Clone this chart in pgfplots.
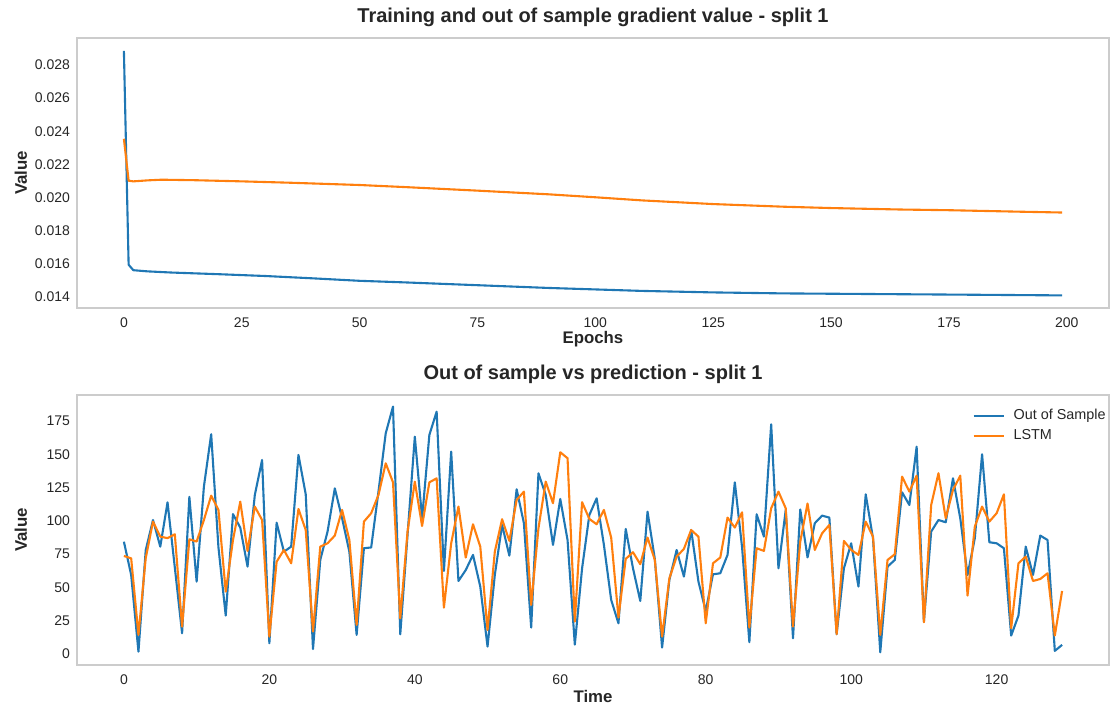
\documentclass[border=0pt]{standalone}
\usepackage{fontspec}
\setmainfont{Liberation Sans}
\usepackage{pgfplots}
\usepackage{pgfplotstable}
\pgfplotsset{compat=1.18}

\definecolor{tabblue}{HTML}{1F77B4}
\definecolor{taborange}{HTML}{FF7F0E}
\definecolor{spine}{HTML}{CCCCCC}
\definecolor{txt}{HTML}{262626}

% gradient value per epoch: training (blue) and out of sample (orange)
\pgfplotstableread{
epoch train
0   0.02885
1   0.01595
2   0.01562
5   0.01555
10  0.01548
20  0.01538
30  0.01527
40  0.01513
50  0.01498
60  0.01488
70  0.01477
80  0.01466
90  0.01455
100 0.01446
110 0.01437
125 0.01428
140 0.01422
150 0.01420
175 0.01415
199 0.01410
}\gradtrain
\pgfplotstableread{
epoch test
0   0.02355
1   0.02102
2   0.02098
5   0.02104
8   0.02108
15  0.02105
25  0.02098
35  0.02090
50  0.02076
60  0.02063
75  0.02042
90  0.02020
100 0.02002
110 0.01983
125 0.01961
140 0.01945
150 0.01937
165 0.01928
175 0.01924
190 0.01915
199 0.01910
}\gradtest

% out-of-sample series and LSTM prediction
\pgfplotstableread{
t oos lstm
0 84.3 73.6
1 59.3 71.8
2 1.7 14.3
3 78 72
4 100.6 99.4
5 80.6 88.1
6 113.9 87
7 65 89.9
8 15.5 20.5
9 118 86.1
10 54.3 84.4
11 125.7 100.6
12 165 118.9
13 80 108.2
14 28.8 46.8
15 105 85.6
16 94.9 114.4
17 65.6 77.4
18 119.4 110.7
19 145.7 100.6
20 8 13
21 98.6 69.3
22 76.8 78.1
23 80.6 68.1
24 149.5 108.9
25 119.9 93.1
26 3.7 16.8
27 70.6 80.6
28 91.9 83.1
29 124.4 88.9
30 101.9 108.2
31 76.8 85.6
32 14.3 21.8
33 79.4 99.4
34 80 105.7
35 121.9 119.4
36 165.7 143.2
37 185.8 128.9
38 14.8 26.8
39 89.4 91.9
40 163.2 129.4
41 101.9 96.1
42 164.5 128.9
43 182 131.9
44 62.3 34.8
45 152 83.1
46 54.8 110.7
47 63 72.4
48 74.4 97.4
49 50.6 80.6
50 5.5 18
51 59.3 76.8
52 96.9 101.2
53 73.8 84.9
54 123.7 115.7
55 98.2 121.9
56 19.8 36.8
57 135.7 94.4
58 119.4 129.4
59 81.9 113.2
60 116.4 151.5
61 85.6 147
62 7 24.3
63 64.3 114
64 104.4 101.4
65 116.9 97.4
66 81.9 108.2
67 40.6 87.4
68 23 27.3
69 93.9 71.4
70 64.3 76.4
71 39.8 67.4
72 106.9 87.4
73 71.4 70.6
74 4.8 13
75 55.6 56.8
76 78.1 73.1
77 58.1 78.9
78 93.1 93.1
79 54.3 88.1
80 32.3 23
81 59.8 68.1
82 60.6 72.4
83 74.4 102.4
84 128.9 94.9
85 80 106.4
86 8.8 19.8
87 104.9 79.4
88 88.1 77.4
89 172.5 109.4
90 64.3 121.9
91 108.2 109.4
92 11.8 20.5
93 108.5 84.4
94 72.5 113
95 98.2 78.1
96 103.9 90.6
97 102.4 96.9
98 14.8 14.8
99 64.3 84.9
100 83.1 78.1
101 50.6 74.4
102 119.9 99.4
103 86.9 88.1
104 1.3 14.3
105 65.6 70.6
106 70.6 74.9
107 121.4 133.2
108 111.9 121.9
109 155.7 133.9
110 24.3 23.8
111 91.9 111.9
112 100.6 135.7
113 98.9 101.9
114 131.9 123.2
115 101.9 133.9
116 59.3 43.8
117 86.9 95.6
118 150 110.7
119 83.9 99.4
120 83.1 105.7
121 79.4 119.9
122 13.8 19.3
123 28.8 68.1
124 80.6 73.1
125 59.3 54.8
126 88.9 56.3
127 85.6 60.6
128 2.3 13.8
129 6.8 47.3
}\predtable

\pgfplotsset{
  panel/.style={
    scale only axis,
    width=516pt, height=135pt,
    axis line style={spine, line width=0.65pt},
    major tick length=0pt,
    tick style={draw=none},
    /pgf/number format/assume math mode=true,
    ticklabel style={font=\fontsize{7}{8}\selectfont, text=txt},
    xticklabel style={yshift=-1.3pt},
    every axis title/.style={at={(axis description cs:0.5,1.078)}, anchor=center,
      font=\bfseries\fontsize{10}{12}\selectfont, text=txt},
    every axis x label/.style={at={(axis description cs:0.5,-0.115)},
      anchor=center, font=\bfseries\fontsize{8.4}{10}\selectfont, text=txt},
    every axis y label/.style={at={(axis description cs:-0.0543,0.5)},
      rotate=90, anchor=center, font=\bfseries\fontsize{8.4}{10}\selectfont, text=txt},
  },
  series/.style={line width=1.05pt, line join=round, mark=none},
}

\begin{document}
\begin{tikzpicture}
\useasboundingbox (0,0) rectangle (555pt,353pt);

\begin{axis}[panel,
  at={(38.5pt,199pt)}, anchor=south west,
  title={Training and out of sample gradient value - split 1},
  xlabel={Epochs}, ylabel={Value},
  xmin=-9.95, xmax=208.95,
  ymin=0.01334, ymax=0.02963,
  xtick={0,25,...,200},
  ytick={0.014,0.016,0.018,0.020,0.022,0.024,0.026,0.028},
  scaled y ticks=false,
  yticklabel style={/pgf/number format/.cd, fixed, fixed zerofill, precision=3},
]
\addplot[series, tabblue] table[x=epoch, y=train] {\gradtrain};
\addplot[series, taborange] table[x=epoch, y=test] {\gradtest};
\end{axis}

\begin{axis}[panel,
  at={(38.5pt,20.5pt)}, anchor=south west,
  title={Out of sample vs prediction - split 1},
  xlabel={Time}, ylabel={Value},
  xmin=-6.45, xmax=135.45,
  ymin=-8.3, ymax=194.5,
  xtick={0,20,...,120},
  ytick={0,25,...,175},
  legend cell align=left,
  legend style={at={(axis description cs:1,1)}, anchor=north east,
    draw=none, fill=none, font=\fontsize{7.2}{8.5}\selectfont,
    text=txt, row sep=-0.9pt, yshift=-3pt, xshift=3.5pt},
  legend image code/.code={\draw[#1] (0pt,0pt) -- (15pt,0pt); \path (17.5pt,0pt);},
]
\addplot[series, tabblue] table[x=t, y=oos] {\predtable};
\addlegendentry{Out of Sample}
\addplot[series, taborange] table[x=t, y=lstm] {\predtable};
\addlegendentry{LSTM}
\end{axis}
\end{tikzpicture}
\end{document}
